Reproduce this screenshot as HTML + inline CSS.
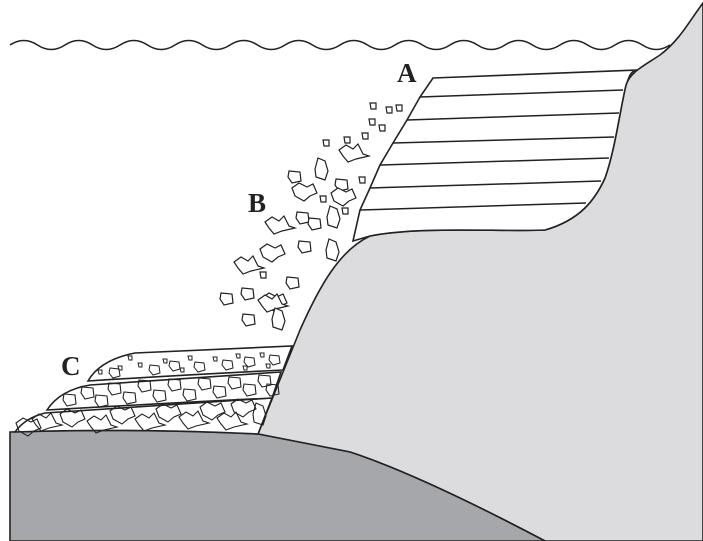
<!DOCTYPE html>
<html><head><style>
html,body{margin:0;padding:0;background:#fff;}
svg{display:block;}
text{font-family:"Liberation Serif",serif;font-weight:bold;font-size:27px;fill:#222;}
</style></head><body>
<svg width="703" height="541" viewBox="0 0 703 541" xmlns="http://www.w3.org/2000/svg">
<defs>
<path id="r1" d="M-12,-4 L-5,-9 L3,-5 L9,-8 L13,1 L6,4 L0,9 L-9,4 Z"/>
<path id="r2" d="M-13,-3 L-6,-8 L1,-4 L6,-9 L11,1 L17,3 L4,6 L-4,9 L-9,3 Z"/>
<path id="r3" d="M-4,-12 L3,-9 L6,1 L3,10 L-6,7 L-7,-1 Z"/>
<path id="r4" d="M-3,-3 L3,-3 L3,3 L-2,3 Z"/>
<path id="r5" d="M-6,-6 L5,-5 L6,4 L-3,6 L-7,0 Z"/>
<path id="s5" d="M-5,-5 L4,-4 L5,3 L-2,5 L-6,0 Z"/>
<path id="s4" d="M-2,-2 L2,-2 L2,2 L-1,2 Z"/>
</defs>
<!-- light gray cliff -->
<path d="M703,3 C690,20 680,40 660,55 C645,65 630,72 626,85 C620,110 615,150 605,178 C595,200 580,220 545,230 C500,232 420,226 370,236 C340,250 320,285 300,330 L258,434 L350,452 Q420,475 545,541 L703,541 Z" fill="#dcdcde" stroke="#222" stroke-width="1.6"/>
<!-- dark ground -->
<path d="M10,432 Q130,428 258,434 L350,452 Q420,475 545,541 L10,541 Z" fill="#a6a7ab" stroke="#222" stroke-width="1.6"/>
<!-- white strata -->
<path d="M433,78 L637,70 C630,72 630,75 626,85 C620,110 615,150 605,178 C595,200 580,220 545,230 C500,232 420,226 370,236 L353,241 L360,210 L370,188 L380,165 L393,143 L407,120 L420,97 Z" fill="#fff" stroke="#222" stroke-width="1.6"/>
<g stroke="#222" stroke-width="1.5" fill="none">
<path d="M420,97 L623,90"/><path d="M407,120 L619,113"/><path d="M393,143 L614,137"/><path d="M380,165 L609,158"/><path d="M370,188 L601,181"/><path d="M360,210 L586,203"/>
<path d="M10,45 q13.75,-9 27.5,0 t27.5,0 t27.5,0 t27.5,0 t27.5,0 t27.5,0 t27.5,0 t27.5,0 t27.5,0 t27.5,0 t27.5,0 t27.5,0 t27.5,0 t27.5,0 t27.5,0 t27.5,0 t27.5,0 t27.5,0 t27.5,0 t27.5,0 t27.5,0 t27.5,0 t27.5,0 t27.5,0"/>
</g>
<!-- sediment C layers -->
<g stroke="#222" stroke-width="1.6" fill="#fff">
<path d="M15,432 Q25,418 45,413 L272,398 L258,434 Q130,428 15,432 Z"/>
<path d="M47,410 Q60,390 90,385 L281,372 L272,398 Q150,404 47,410 Z"/>
<path d="M88,381 Q100,360 135,353 L292,346 L283,370 Q180,375 88,381 Z"/>
</g>
<g stroke="#222" stroke-width="1" fill="none">
<use href="#s4" x="100" y="372"/><use href="#s4" x="120" y="368"/><use href="#s5" x="115" y="373"/><use href="#s4" x="140" y="365"/><use href="#s5" x="155" y="370"/><use href="#s4" x="165" y="361"/><use href="#s5" x="175" y="366"/><use href="#s4" x="190" y="358"/><use href="#s5" x="200" y="367"/><use href="#s4" x="215" y="359"/><use href="#s5" x="228" y="365"/><use href="#s4" x="238" y="356"/><use href="#s5" x="250" y="362"/><use href="#s4" x="262" y="355"/><use href="#s5" x="275" y="360"/><use href="#s4" x="130" y="358"/><use href="#s4" x="182" y="370"/><use href="#s4" x="245" y="368"/><use href="#s4" x="268" y="366"/>
</g>
<g stroke="#222" stroke-width="1.1" fill="none">
<use href="#r5" x="70" y="400"/><use href="#r5" x="88" y="393"/><use href="#r5" x="102" y="401"/><use href="#r5" x="115" y="389"/><use href="#r5" x="130" y="398"/><use href="#r5" x="145" y="386"/><use href="#r5" x="160" y="396"/><use href="#r5" x="175" y="385"/><use href="#r5" x="190" y="395"/><use href="#r5" x="205" y="384"/><use href="#r5" x="220" y="392"/><use href="#r5" x="235" y="383"/><use href="#r5" x="250" y="390"/><use href="#r5" x="265" y="381"/><use href="#r5" x="273" y="390"/>
<use href="#r2" x="45" y="422"/><use href="#r1" x="72" y="418"/><use href="#r2" x="100" y="424"/><use href="#r1" x="122" y="415"/><use href="#r2" x="148" y="422"/><use href="#r1" x="168" y="413"/><use href="#r2" x="192" y="420"/><use href="#r1" x="212" y="411"/><use href="#r2" x="230" y="421"/><use href="#r1" x="243" y="408"/><use href="#r3" x="260" y="415"/><use href="#r1" x="28" y="427"/>
</g>
<!-- debris B -->
<g stroke="#222" stroke-width="1.2" fill="#fff">
<use href="#r4" x="373" y="106"/><use href="#r4" x="389" y="110"/><use href="#r4" x="399" y="108"/><use href="#r4" x="372" y="122"/><use href="#r4" x="382" y="128"/><use href="#r4" x="347" y="140"/><use href="#r4" x="365" y="136"/><use href="#r4" x="326" y="143"/>
<use href="#r2" x="352" y="153"/><use href="#r3" x="322" y="170"/><use href="#r5" x="295" y="177"/><use href="#r5" x="342" y="185"/><use href="#r4" x="362" y="180"/>
<use href="#r1" x="304" y="192"/><use href="#r1" x="343" y="197"/><use href="#r4" x="323" y="199"/><use href="#r4" x="345" y="211"/>
<use href="#r2" x="278" y="225"/><use href="#r5" x="303" y="218"/><use href="#r5" x="315" y="224"/><use href="#r3" x="334" y="218"/>
<use href="#r5" x="305" y="247"/><use href="#r3" x="333" y="251"/><use href="#r1" x="272" y="253"/><use href="#r2" x="247" y="265"/><use href="#r4" x="263" y="275"/><use href="#r5" x="293" y="283"/>
<use href="#r1" x="274" y="302"/><use href="#r5" x="227" y="299"/><use href="#r5" x="248" y="294"/><use href="#r2" x="271" y="303"/><use href="#r5" x="249" y="320"/><use href="#r3" x="279" y="320"/>
</g>
<text x="397" y="82">A</text>
<text x="248" y="212">B</text>
<text x="61" y="375">C</text>
</svg>
</body></html>
